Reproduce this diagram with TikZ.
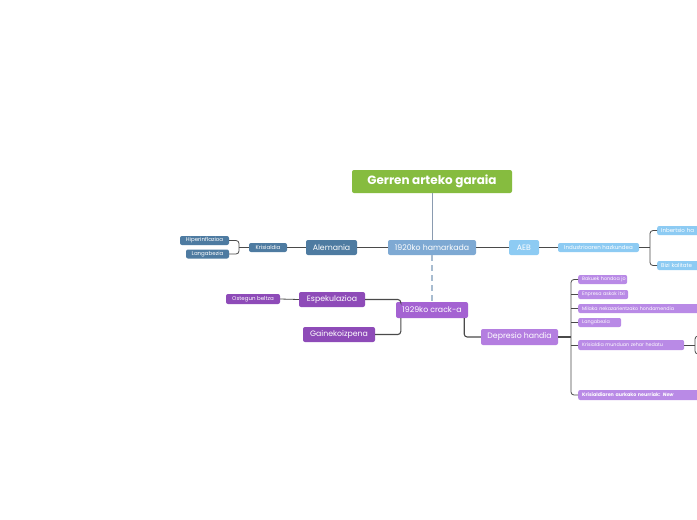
\documentclass[tikz,border=0pt]{standalone}
\usepackage{fontspec}
\setmainfont{Poppins}
\usetikzlibrary{calc}
\definecolor{cgreen}{HTML}{86BC3F}
\definecolor{cdark}{HTML}{4E7BA1}
\definecolor{cmid}{HTML}{7EA9D3}
\definecolor{clight}{HTML}{8DCBF3}
\definecolor{pcrack}{HTML}{A462D2}
\definecolor{pdark}{HTML}{8E4BB8}
\definecolor{pdep}{HTML}{B47EE0}
\definecolor{pchild}{HTML}{B98AE6}
\definecolor{cline}{HTML}{4A4A4A}
\definecolor{ctrunk}{HTML}{8A9BB0}
\definecolor{cdash}{HTML}{A8BCD0}
\tikzset{
  box/.style={rounded corners=2pt, inner sep=0pt, text=white, align=center},
  lbox/.style={rounded corners=2pt, inner ysep=0pt, inner xsep=4pt, text=white, align=left, anchor=west, text width=#1},
  conn/.style={draw=cline, line width=1.1pt, rounded corners=3pt},
  thin/.style={draw=cline, line width=0.8pt, rounded corners=3pt},
  big/.style={font=\fontsize{7.8}{9}\selectfont},
  small/.style={font=\fontsize{5.5}{6.5}\selectfont},
  tiny/.style={font=\fontsize{4.8}{6}\selectfont},
}
\begin{document}
\begin{tikzpicture}[x=1pt,y=-1pt]
\useasboundingbox (0,0) rectangle (697,520);
\clip (0,0) rectangle (697,520);
\fill[white] (0,0) rectangle (697,520);
% nodes
\node[box, fill=cgreen, minimum width=160pt, minimum height=23pt, font=\fontsize{12}{14}\selectfont\bfseries] (title) at (432,181.5) {Gerren arteko garaia};
\node[box, big, fill=cmid, minimum width=88pt, minimum height=15pt] (dec) at (432,247.5) {1920ko hamarkada};
\node[box, big, fill=cdark, minimum width=51pt, minimum height=15pt] (ale) at (331.5,247.5) {Alemania};
\node[box, small, fill=cdark, minimum width=38pt, minimum height=9pt] (kris) at (268,247.5) {Krisialdia};
\node[box, small, fill=cdark, minimum width=49pt, minimum height=9pt] (hiper) at (204.5,240.5) {Hiperinflazioa};
\node[box, small, fill=cdark, minimum width=43pt, minimum height=9pt] (lang1) at (207.5,254) {Langabezia};
\node[box, big, fill=clight, minimum width=30pt, minimum height=15pt] (aeb) at (524,247.5) {AEB};
\node[box, small, fill=clight, minimum width=81pt, minimum height=9pt] (ind) at (598.5,247.5) {Industrioaren hazkundea};
\node[lbox=40pt, small, fill=clight, minimum height=9pt] (inb) at (657,230.5) {\mbox{Inbertsio ha}};
\node[lbox=40pt, small, fill=clight, minimum height=9pt] (bizi) at (657,265.5) {\mbox{Bizi kalitate}};
\node[box, big, fill=pcrack, minimum width=72pt, minimum height=16pt] (crack) at (432,310) {1929ko crack-a};
\node[box, big, fill=pdark, minimum width=66pt, minimum height=15pt] (esp) at (332,299.5) {Espekulazioa};
\node[box, big, fill=pdark, minimum width=72pt, minimum height=15pt] (gain) at (339,334.5) {Gainekoizpena};
\node[box, small, fill=pdark, minimum width=54pt, minimum height=10pt] (oste) at (253,299) {Ostegun beltza};
\node[box, big, fill=pdep, minimum width=77pt, minimum height=16pt] (dep) at (519.5,337) {Depresio handia};
\node[lbox=41pt, tiny, fill=pchild, minimum height=9pt] (bak) at (578,279.5) {\mbox{Bakuek hondoa jo}};
\node[lbox=42pt, tiny, fill=pchild, minimum height=9pt] (enp) at (578,294.5) {\mbox{Enpresa askok itxi}};
\node[lbox=117pt, tiny, fill=pchild, minimum height=9pt] (mil) at (578,308.5) {\mbox{Milaka nekazarientzako hondamendia}};
\node[lbox=35pt, tiny, fill=pchild, minimum height=9pt] (lang2) at (578,322.5) {\mbox{Langabezia}};
\node[lbox=98pt, tiny, fill=pchild, minimum height=10pt] (krm) at (578,345) {\mbox{Krisialdia munduan zehar hedatu}};
\node[lbox=125pt, tiny, fill=pchild, minimum height=10pt, font=\fontsize{4.8}{6}\selectfont\bfseries] (neur) at (578,395) {\mbox{Krisialdiaren aurkako neurriak: \textit{New}}};
\coordinate (kb) at (239,247.5);
\coordinate (ib) at (650,247.5);
\coordinate (db) at (571,337);
\coordinate (mb) at (695,345);
% connectors
\draw[ctrunk, line width=1pt] (title.south) -- (dec.north);
\draw[cdash, line width=1.2pt, dash pattern=on 6pt off 4pt] (dec.south) -- (crack.north);
\draw[conn] (dec.west) -- (ale.east);
\draw[conn] (ale.west) -- (kris.east);
\draw[conn] (dec.east) -- (aeb.west);
\draw[conn] (aeb.east) -- (ind.west);
\draw[thin] (kris.west) -- (kb);
\draw[thin] (hiper.east) -| (kb) |- (lang1.east);
\draw[thin] (ind.east) -- (ib);
\draw[thin] (inb.west) -| (ib) |- (bizi.west);
\draw[thin] (oste.east) -- (esp.west);
\draw[conn] (esp.east) -| ($(crack.north west)+(5,0)$);
\draw[conn] (gain.east) -| ($(crack.south west)+(5,0)$);
\draw[conn] ($(crack.south east)+(-4,0)$) |- (dep.west);
\draw[conn] (dep.east) -- (db);
\draw[thin] (bak.west) -| (db) |- (neur.west);
\draw[thin] (enp.west) -- (enp.west -| db);
\draw[thin] (mil.west) -- (mil.west -| db);
\draw[thin] (lang2.west) -- (lang2.west -| db);
\draw[thin] (krm.west) -- (krm.west -| db);
\draw[thin] (krm.east) -- (mb);
\draw[thin] (705,336) -| (mb) |- (705,354);
\end{tikzpicture}
\end{document}
